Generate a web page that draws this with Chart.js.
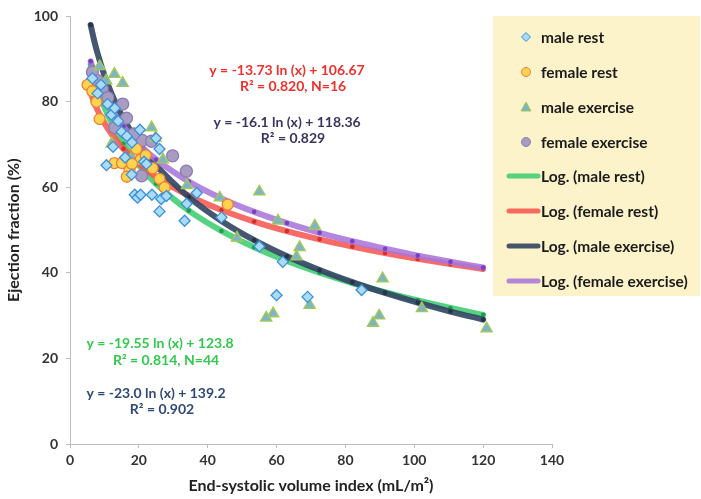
<!DOCTYPE html>
<html><head><meta charset="utf-8">
<script src="https://cdn.jsdelivr.net/npm/chart.js@4.4.1/dist/chart.umd.min.js"></script>
<style>html,body{margin:0;padding:0;background:#fff}#wrap{width:701px;height:499px;position:relative}</style>
</head><body><div id="wrap"><canvas id="c" width="701" height="499"></canvas></div>
<script>
// ---- data ----
const maleRestX = [6.5, 8, 9, 10.9, 12, 13, 14, 15, 16.5, 18, 20.3, 21.5, 22.2, 25, 26, 10.6, 17.9, 18.8, 19.6, 20.5, 23.8, 26.5, 26, 28, 33.3, 33.9, 36.8, 44, 55, 61.8, 60, 69, 84.7, 16, 12.5];
const maleRestY = [85.5, 82, 84, 79.5, 77, 78.5, 75.5, 73, 72, 70.5, 73.5, 66, 65.5, 71.5, 69, 65.2, 63, 58.3, 57.6, 58.3, 58.3, 57.3, 54.4, 58, 52.2, 56.2, 58.7, 53, 46.2, 42.6, 34.8, 34.4, 36, 67, 69.5];
const femaleRestX = [5.1, 6.5, 7.7, 8.6, 12.9, 15.1, 17.3, 16.5, 19.3, 20.5, 24, 26, 27.5, 22, 45.8, 18];
const femaleRestY = [84, 82.5, 80, 76, 65.7, 65.7, 64, 62.5, 69, 66.5, 64.5, 62, 60, 67.5, 56, 65.5];
const maleExX = [8.6, 10.5, 12.9, 15.3, 12.1, 23.7, 24.8, 27, 18, 34, 43.5, 48.5, 55, 60.4, 66.7, 65.8, 71.1, 57, 59, 69.6, 88, 89.8, 90.8, 102.2, 121];
const maleExY = [88.3, 85, 86.5, 84.4, 70.2, 74, 71.6, 66.5, 67, 60.5, 57.6, 48.2, 59, 52.2, 46, 43.8, 51, 29.5, 30.5, 32.5, 28.3, 30, 38.7, 31.7, 27];
const femaleExX = [6.5, 8, 9.4, 11, 15.3, 16.4, 13, 21, 23.7, 20.8, 29.8, 33.8, 18.5];
const femaleExY = [87, 85, 83, 81, 79.5, 76.2, 74, 71, 70.8, 62.7, 67.4, 63.8, 72.5];

// fitted curves as drawn in the reference (read at these x positions)
const trendX = [6, 7, 8, 9.5, 11, 13, 15.5, 20, 25, 34.5, 44, 53.5, 63, 72.5, 82, 91.5, 101, 110.5, 120];
const maleRestFit = [88.77, 85.76, 83.15, 79.79, 76.92, 73.66, 70.22, 65.23, 60.87, 54.57, 49.82, 46.00, 42.80, 40.06, 37.65, 35.51, 33.58, 31.82, 30.20];
const femaleRestFit = [82.07, 79.95, 78.12, 75.76, 73.75, 71.45, 69.04, 65.54, 62.47, 58.05, 54.71, 52.03, 49.79, 47.86, 46.17, 44.66, 43.30, 42.07, 40.94];
const maleExFit = [97.99, 94.44, 91.37, 87.42, 84.05, 80.21, 76.16, 70.30, 65.17, 57.76, 52.16, 47.67, 43.91, 40.68, 37.85, 35.33, 33.05, 30.98, 29.09];
const femaleExFit = [89.51, 87.03, 84.88, 82.11, 79.75, 77.06, 74.23, 70.13, 66.54, 61.35, 57.43, 54.29, 51.66, 49.39, 47.41, 45.65, 44.06, 42.61, 41.28];
const markedTrendX = [6, 15.5, 25, 34.5, 44, 53.5, 63, 72.5, 82, 91.5, 101, 110.5, 120];

const xTicks = [0, 20, 40, 60, 80, 100, 120, 140];
const yTicks = [0, 20, 40, 60, 80, 100];
const legendLabels = ['male rest', 'female rest', 'male exercise', 'female exercise', 'Log. (male rest)', 'Log. (female rest)', 'Log. (male exercise)', 'Log. (female exercise)'];
const equations = [
  ['y = -13.73 ln (x) + 106.67', 'R² = 0.820, N=16'],
  ['y = -16.1 ln (x) + 118.36', 'R² = 0.829'],
  ['y = -19.55 ln (x) + 123.8', 'R² = 0.814, N=44'],
  ['y = -23.0 ln (x) + 139.2', 'R² = 0.902']
];

// ---- build ----
const pts = (xs, ys) => xs.map((x, i) => ({x, y: ys[i]}));
const FONT = 'Lato, "Open Sans", sans-serif';

function scatterDs(label, xs, ys, style, fill, border, r) {
  return {label, data: pts(xs, ys), pointStyle: style, backgroundColor: fill, borderColor: border,
    pointBackgroundColor: fill, pointBorderColor: border, pointBorderWidth: 1.3, pointRadius: r, showLine: false, order: 0};
}
function trendDs(label, ys, lineCol, dotCol, order) {
  return {label, data: pts(trendX, ys), showLine: true, borderColor: lineCol, borderWidth: 6, tension: 0.4,
    cubicInterpolationMode: 'monotone', borderCapStyle: 'round', backgroundColor: dotCol,
    pointBackgroundColor: dotCol, pointBorderWidth: 0,
    pointRadius: ctx => markedTrendX.includes(trendX[ctx.dataIndex]) ? 2.3 : 0, order};
}

const datasets = [
  scatterDs(legendLabels[0], maleRestX, maleRestY, 'rectRot', '#a9dcf4', '#3c8fd9', 5.5),
  scatterDs(legendLabels[1], femaleRestX, femaleRestY, 'circle', '#ffd34d', '#ee7f3a', 5.5),
  scatterDs(legendLabels[2], maleExX, maleExY, 'triangle', '#7fb4c8', '#a3cb4f', 6.5),
  scatterDs(legendLabels[3], femaleExX, femaleExY, 'circle', '#a99cc3', '#8c7cb2', 6),
  trendDs(legendLabels[4], maleRestFit, 'rgba(62,205,112,0.88)', '#1f9c4c', 4),
  trendDs(legendLabels[5], femaleRestFit, 'rgba(246,82,76,0.85)', '#d52e2e', 3),
  trendDs(legendLabels[6], maleExFit, 'rgba(52,72,100,0.92)', '#25344a', 2),
  trendDs(legendLabels[7], femaleExFit, 'rgba(168,118,218,0.88)', '#7a3dc4', 1)
];

const overlay = {
  id: 'overlay',
  afterDraw(chart) {
    const c = chart.ctx;
    c.save();
    // equation annotations
    const eqStyle = [
      {col: '#f0302c', x: 287, y: [70, 86]},
      {col: '#3a3560', x: 287, y: [122, 138]},
      {col: '#33c94e', x: 160, y: [343, 360]},
      {col: '#2f4a78', x: 156, y: [393, 409]}
    ];
    c.font = 'bold 14px ' + FONT;
    c.textAlign = 'center';
    c.textBaseline = 'middle';
    equations.forEach((lines, i) => {
      c.fillStyle = eqStyle[i].col;
      c.fillText(lines[0], eqStyle[i].x, eqStyle[i].y[0]);
      c.fillText(lines[1], eqStyle[i].x + 6, eqStyle[i].y[1]);
    });
    // legend box
    c.fillStyle = '#fcf3cb';
    c.fillRect(493, 16, 207, 280);
    const rows = [37, 72, 107, 142, 176, 211, 246, 281];
    c.textAlign = 'left';
    c.font = 'bold 15.5px ' + FONT;
    datasets.forEach((ds, i) => {
      const y = rows[i];
      if (i < 4) {
        c.fillStyle = ds.pointBackgroundColor;
        c.strokeStyle = ds.pointBorderColor;
        c.lineWidth = 1;
        c.beginPath();
        const x = 526, r = 4.5;
        if (ds.pointStyle === 'rectRot') {
          c.moveTo(x, y - r); c.lineTo(x + r, y); c.lineTo(x, y + r); c.lineTo(x - r, y); c.closePath();
        } else if (ds.pointStyle === 'triangle') {
          c.moveTo(x, y - 5); c.lineTo(x + 5, y + 4); c.lineTo(x - 5, y + 4); c.closePath();
        } else {
          c.arc(x, y, r, 0, Math.PI * 2);
        }
        c.fill(); c.stroke();
      } else {
        c.strokeStyle = ds.borderColor;
        c.lineWidth = 5;
        c.lineCap = 'round';
        c.beginPath(); c.moveTo(509, y); c.lineTo(538, y); c.stroke();
      }
      c.fillStyle = '#1b1b1b';
      c.fillText(ds.label, 541, y + 1);
    });
    c.restore();
  }
};

new Chart(document.getElementById('c'), {
  type: 'scatter',
  data: {datasets},
  plugins: [overlay],
  options: {
    responsive: false,
    animation: false,
    layout: {padding: {left: 0, right: 149, top: 15, bottom: 0}},
    plugins: {legend: {display: false}, tooltip: {enabled: false}},
    scales: {
      x: {
        type: 'linear', min: 0, max: 140,
        afterBuildTicks: s => { s.ticks = xTicks.map(v => ({value: v})); },
        afterFit: s => { s.height = 55; },
        grid: {display: true, drawOnChartArea: false, drawTicks: true, tickLength: 4, color: '#bdbdbd'},
        border: {display: true, color: '#bdbdbd', width: 1},
        ticks: {color: '#333', font: {family: FONT, size: 14, weight: 'bold'}, padding: 4, maxRotation: 0},
        title: {display: true, text: 'End-systolic volume index (mL/m²)', color: '#222', font: {family: FONT, size: 16, weight: 'bold'}, padding: {top: 2}}
      },
      y: {
        type: 'linear', min: 0, max: 100,
        afterBuildTicks: s => { s.ticks = yTicks.map(v => ({value: v})); },
        afterFit: s => { s.width = 70; },
        grid: {display: true, drawOnChartArea: false, drawTicks: true, tickLength: 4, color: '#bdbdbd'},
        border: {display: true, color: '#bdbdbd', width: 1},
        ticks: {color: '#333', font: {family: FONT, size: 14, weight: 'bold'}, padding: 8},
        title: {display: true, text: 'Ejection fraction (%)', color: '#222', font: {family: FONT, size: 16, weight: 'bold'}, padding: {bottom: 4}}
      }
    }
  }
});
</script>
</body></html>
